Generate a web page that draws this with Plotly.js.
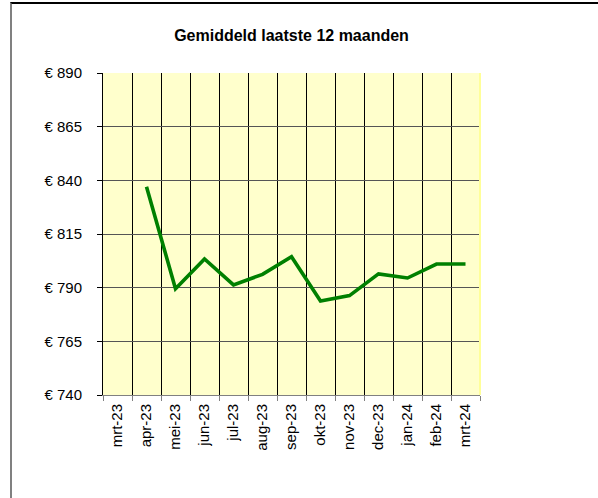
<!DOCTYPE html>
<html>
<head>
<meta charset="utf-8">
<script src="https://cdn.plot.ly/plotly-3.0.1.min.js"></script>
<style>
  html, body { margin: 0; padding: 0; background: #fff; }
  #frame { position: absolute; left: 10px; top: 2px; width: 588px; height: 496px;
           border-left: 2px solid #808080; border-top: 2px solid #000; box-sizing: border-box; }
  #chart { position: absolute; left: 0; top: 0; width: 598px; height: 498px; }
</style>
</head>
<body>
<div id="frame"></div>
<div id="chart"></div>
<script>
const months = ["mrt-23","apr-23","mei-23","jun-23","jul-23","aug-23","sep-23","okt-23","nov-23","dec-23","jan-24","feb-24","mrt-24"];
const averages = [null, 837, 789.5, 803.4, 791.3, 796.2, 804.4, 783.8, 786.3, 796.4, 794.5, 801, 801];
const yTickValues = [740, 765, 790, 815, 840, 865, 890];
const yTickLabels = yTickValues.map(v => "€ " + v);
const chartTitle = "Gemiddeld laatste 12 maanden";

const font = "Liberation Sans, Arial, sans-serif";

Plotly.newPlot("chart", [{
  x: months,
  y: averages,
  type: "scatter",
  mode: "lines",
  line: { color: "#008000", width: 3.6 },
  connectgaps: false,
  hoverinfo: "x+y"
}], {
  width: 598, height: 498,
  margin: { l: 103, r: 118, t: 73, b: 103, pad: 0 },
  paper_bgcolor: "rgba(0,0,0,0)",
  plot_bgcolor: "#FFFFCC",
  showlegend: false,
  font: { family: font, size: 15, color: "#000" },
  title: {
    text: "<b>" + chartTitle + "</b>",
    font: { family: font, size: 16, color: "#000" },
    x: 0.5, xref: "paper", xanchor: "center",
    y: 1 - 35 / 498, yref: "container", yanchor: "middle"
  },
  xaxis: {
    type: "category",
    range: [-0.5, months.length - 0.5],
    tickson: "boundaries",
    ticks: "outside", ticklen: 5, tickcolor: "#808080",
    tickangle: -90,
    showgrid: true, gridcolor: "#000", gridwidth: 1,
    showline: true, linecolor: "#808080", linewidth: 1,
    tickfont: { family: font, size: 15, color: "#000" },
    ticklabelstandoff: 2,
    zeroline: false, fixedrange: true
  },
  yaxis: {
    range: [740, 890],
    tickvals: yTickValues,
    ticktext: yTickLabels,
    ticks: "outside", ticklen: 5, tickcolor: "#000",
    showgrid: true, gridcolor: "#555", gridwidth: 1,
    showline: true, linecolor: "#000", linewidth: 1,
    tickfont: { family: font, size: 15, color: "#000" },
    ticklabelstandoff: 12,
    zeroline: false, fixedrange: true
  },
  shapes: [{
    type: "line", xref: "paper", yref: "paper",
    x0: 1, x1: 1, y0: 0, y1: 1,
    line: { color: "#FFFF99", width: 2 }
  }]
}, { displayModeBar: false, staticPlot: true });
</script>
</body>
</html>
